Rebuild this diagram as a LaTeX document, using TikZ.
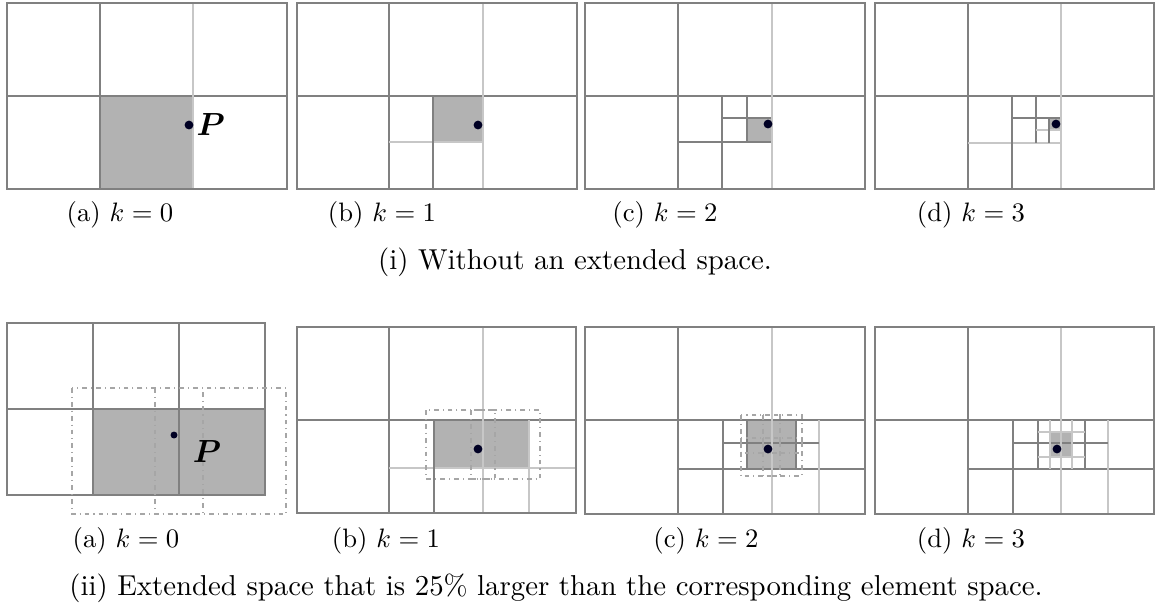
\documentclass[tikz,border=0pt]{standalone}
\usepackage{amsmath}
\usepackage{bm}
\begin{document}
\begin{tikzpicture}[x=0.375pt,y=-0.375pt,
  dk/.style={draw=black!50,line width=0.55pt},
  lt/.style={draw=black!22,line width=0.9pt},
  shd/.style={fill=black!30},
  ext/.style={draw=black!35,line width=0.4pt,dash pattern=on 1.8pt off 1.5pt on 0.4pt off 1.5pt},
  pt/.style={circle,fill=black!80!blue!70!black,inner sep=0pt,minimum size=3.3pt},
  captxt/.style={inner sep=0pt,anchor=center},
  bigcap/.style={inner sep=0pt,anchor=center,font=\fontsize{10.8}{13}\selectfont}]
\useasboundingbox (0,0) rectangle (1156,610);

% ===== (i)(a)
\fill[shd] (100,96) rectangle (193,189);
\draw[dk] (7,96) -- (287,96);
\draw[dk] (100,3) -- (100,189);
\draw[lt] (193,3) -- (193,189);
\draw[dk] (7,3) rectangle (287,189);
\node[pt] (p1) at (189,125) {};
\node[inner sep=0pt,anchor=west] (P1) at (196,125) {\large$\bm{P}$};

% ===== (i)(b)
\fill[shd] (433,96) rectangle (483,142);
\draw[dk] (297,96) -- (577,96);
\draw[dk] (389,3) -- (389,189);
\draw[lt] (389,142) -- (483,142);
\draw[dk] (433,96) -- (433,189);
\draw[lt] (483,3) -- (483,189);
\draw[dk] (297,3) rectangle (577,189);
\node[pt] (p2) at (478,125) {};

% ===== (i)(c)
\fill[shd] (747,118) rectangle (772,142);
\draw[dk] (585,96) -- (865,96);
\draw[dk] (678,3) -- (678,189);
\draw[dk] (678,142) -- (772,142);
\draw[dk] (722,96) -- (722,189);
\draw[dk] (722,118) -- (772,118);
\draw[dk] (747,96) -- (747,142);
\draw[lt] (772,3) -- (772,189);
\draw[dk] (585,3) rectangle (865,189);
\node[pt] (p3) at (768,124) {};

% ===== (i)(d)
\fill[shd] (1049,118) rectangle (1061,130);
\draw[dk] (875,96) -- (1154,96);
\draw[dk] (968,3) -- (968,189);
\draw[lt] (968,143) -- (1061,143);
\draw[dk] (1012,96) -- (1012,189);
\draw[dk] (1012,118) -- (1061,118);
\draw[dk] (1036,96) -- (1036,143);
\draw[lt] (1036,130) -- (1061,130);
\draw[dk] (1049,118) -- (1049,143);
\draw[lt] (1061,3) -- (1061,189);
\draw[dk] (875,3) rectangle (1154,189);
\node[pt] (p4) at (1056,124) {};

% captions row 1
\node[captxt] (ca1) at (120,215) {(a) $k=0$};
\node[captxt] (cb1) at (382,215) {(b) $k=1$};
\node[captxt] (cc1) at (665,215) {(c) $k=2$};
\node[captxt] (cd1) at (971,215) {(d) $k=3$};
\node[bigcap] (ci) at (575,262) {(i) Without an extended space.};

% ===== (ii)(a)
\fill[shd] (93,409) rectangle (265,495);
\draw[dk] (7,409) -- (265,409);
\draw[dk] (93,323) -- (93,495);
\draw[dk] (179,323) -- (179,495);
\draw[dk] (7,323) rectangle (265,495);
\draw[ext] (72,388) rectangle (203,514);
\draw[ext] (155,388) rectangle (286,514);
\node[pt,minimum size=2.6pt] (p5) at (174,435) {};
\node[inner sep=0pt] (P5) at (207,452) {\large$\bm{P}$};

% ===== (ii)(b)
\fill[shd] (434,420) rectangle (529,468);
\draw[dk] (297,420) -- (576,420);
\draw[dk] (389,327) -- (389,513);
\draw[lt] (389,468) -- (576,468);
\draw[dk] (434,420) -- (434,513);
\draw[lt] (529,420) -- (529,513);
\draw[lt] (483,327) -- (483,513);
\draw[dk] (297,327) rectangle (576,513);
\draw[ext] (426,410) rectangle (495,479);
\draw[ext] (471,410) rectangle (540,479);
\node[pt] (p6) at (478,449) {};

% ===== (ii)(c)
\fill[shd] (747,420) rectangle (796,469);
\draw[dk] (585,420) -- (865,420);
\draw[dk] (678,327) -- (678,514);
\draw[dk] (678,469) -- (865,469);
\draw[dk] (723,420) -- (723,514);
\draw[lt] (819,420) -- (819,514);
\draw[dk] (723,443) -- (819,443);
\draw[dk] (747,420) -- (747,469);
\draw[dk] (796,420) -- (796,469);
\draw[lt] (772,327) -- (772,514);
\draw[dk] (585,327) rectangle (865,514);
\draw[ext] (741,415) rectangle (780,453);
\draw[ext] (763,415) rectangle (802,453);
\draw[ext] (741,438) rectangle (780,476);
\draw[ext] (763,438) rectangle (802,476);
\node[pt] (p7) at (768,449) {};

% ===== (ii)(d)
\fill[shd] (1050,432) rectangle (1072,457);
\draw[dk] (875,420) -- (1154,420);
\draw[dk] (968,327) -- (968,514);
\draw[dk] (968,469) -- (1154,469);
\draw[dk] (1013,420) -- (1013,514);
\draw[lt] (1108,420) -- (1108,514);
\draw[dk] (1013,443) -- (1108,443);
\draw[dk] (1038,420) -- (1038,469);
\draw[dk] (1085,420) -- (1085,469);
\draw[lt] (1038,432) -- (1085,432);
\draw[lt] (1038,457) -- (1085,457);
\draw[lt] (1050,420) -- (1050,469);
\draw[lt] (1072,420) -- (1072,469);
\draw[lt] (1061,327) -- (1061,514);
\draw[dk] (875,327) rectangle (1154,514);
\node[pt] (p8) at (1057,449) {};

% captions row 2
\node[captxt] (ca2) at (126,541) {(a) $k=0$};
\node[captxt] (cb2) at (386,541) {(b) $k=1$};
\node[captxt] (cc2) at (706,541) {(c) $k=2$};
\node[captxt] (cd2) at (971,541) {(d) $k=3$};
\node[bigcap] (cii) at (556,588) {(ii) Extended space that is 25\% larger than the corresponding element space.};
\end{tikzpicture}
\end{document}
